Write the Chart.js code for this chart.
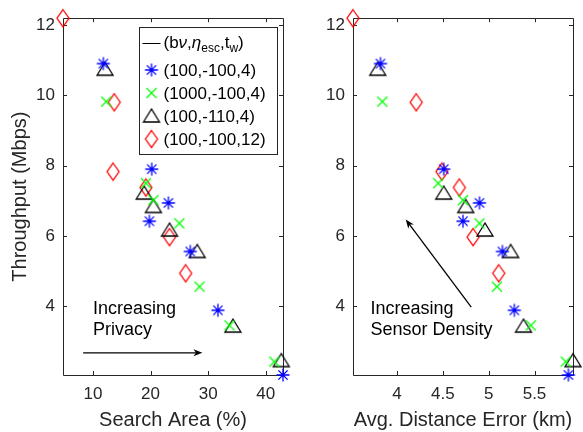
<!DOCTYPE html>
<html>
<head>
<meta charset="utf-8">
<script src="https://cdn.jsdelivr.net/npm/chart.js@4.4.1/dist/chart.umd.min.js"></script>
<style>
body { margin: 0; background: #fff; }
#wrap { position: relative; width: 583px; height: 432px; }
canvas { position: absolute; top: 0; }
</style>
</head>
<body>
<div id="wrap">
<canvas id="leftChart" width="292" height="432" style="left:0px"></canvas>
<canvas id="rightChart" width="291" height="432" style="left:292px"></canvas>
</div>
<script>
// throughput (Mbps), same for both panels
var tputStar = [10.9, 7.9, 6.94, 6.42, 5.56, 3.89, 2.05];
var tputCross = [9.82, 7.5, 7.02, 6.36, 4.56, 3.46, 2.43];
var tputTri = [10.74, 7.22, 6.84, 6.17, 5.56, 3.44, 2.46];
var tputDiam = [12.19, 9.8, 7.83, 7.38, 5.97, 4.94];

// search area (%)
var areaStar = [11.8, 20.2, 23.1, 19.8, 26.9, 31.7, 43.0];
var areaCross = [12.3, 19.2, 20.5, 25.0, 28.5, 33.7, 41.5];
var areaTri = [12.1, 18.9, 20.5, 23.3, 28.1, 34.3, 42.7];
var areaDiam = [4.8, 13.7, 13.5, 19.2, 23.3, 26.1];

// avg. distance error (km)
var distStar = [3.82, 4.51, 4.90, 4.72, 5.15, 5.28, 5.87];
var distCross = [3.84, 4.45, 4.72, 4.90, 5.09, 5.46, 5.84];
var distTri = [3.79, 4.51, 4.75, 4.96, 5.24, 5.38, 5.92];
var distDiam = [3.52, 4.21, 4.49, 4.68, 4.83, 5.11];

var seriesLabels = ["(100,-100,4)", "(1000,-100,4)", "(100,-110,4)", "(100,-100,12)"];
var seriesColors = ["#0000ff", "#00ff00", "#000000", "#ff0000"];

var yTicks = [4, 6, 8, 10, 12];
var areaTicks = [10, 20, 30, 40];
var distTicks = [4, 4.5, 5, 5.5];

var FONT = "'Liberation Sans', Arial, Helvetica, sans-serif";
var AXIS_COLOR = "#262626";

// matlab like marker images
function makeMarker(kind, color) {
    var c = document.createElement("canvas");
    c.width = 20; c.height = 22;
    var g = c.getContext("2d");
    var cx = 10, cy = 11;
    g.strokeStyle = color;
    g.lineWidth = 1.3;
    g.beginPath();
    if (kind === "star") {
        var r = 6.5, d = 4.6;
        g.moveTo(cx - r, cy); g.lineTo(cx + r, cy);
        g.moveTo(cx, cy - r); g.lineTo(cx, cy + r);
        g.moveTo(cx - d, cy - d); g.lineTo(cx + d, cy + d);
        g.moveTo(cx - d, cy + d); g.lineTo(cx + d, cy - d);
    } else if (kind === "cross") {
        var e = 5;
        g.moveTo(cx - e, cy - e); g.lineTo(cx + e, cy + e);
        g.moveTo(cx - e, cy + e); g.lineTo(cx + e, cy - e);
    } else if (kind === "tri") {
        g.moveTo(cx, cy - 7);
        g.lineTo(cx - 8, cy + 6);
        g.lineTo(cx + 8, cy + 6);
        g.closePath();
    } else {
        g.moveTo(cx, cy - 8.5);
        g.lineTo(cx + 6, cy);
        g.lineTo(cx, cy + 8.5);
        g.lineTo(cx - 6, cy);
        g.closePath();
    }
    g.stroke();
    return c;
}

var markerKinds = ["star", "cross", "tri", "diam"];
var markers = [];
for (let i = 0; i < markerKinds.length; i++) {
    markers[i] = makeMarker(markerKinds[i], seriesColors[i]);
}

function toPoints(xs, ys) {
    var pts = [];
    for (let i = 0; i < xs.length; i++) {
        pts.push({ x: xs[i], y: ys[i] });
    }
    return pts;
}

function drawFrame(chart) {
    var ctx = chart.ctx, a = chart.chartArea;
    var xs = chart.scales.x, ys = chart.scales.y;
    var tl = 4;
    ctx.save();
    ctx.strokeStyle = AXIS_COLOR;
    ctx.lineWidth = 1;
    ctx.beginPath();
    ctx.rect(Math.round(a.left) + 0.5, Math.round(a.top) + 0.5,
        Math.round(a.right - a.left), Math.round(a.bottom - a.top));
    for (let i = 0; i < xs.ticks.length; i++) {
        var px = Math.round(xs.getPixelForValue(xs.ticks[i].value)) + 0.5;
        ctx.moveTo(px, a.bottom); ctx.lineTo(px, a.bottom - tl);
        ctx.moveTo(px, a.top); ctx.lineTo(px, a.top + tl);
    }
    for (let i = 0; i < ys.ticks.length; i++) {
        var py = Math.round(ys.getPixelForValue(ys.ticks[i].value)) + 0.5;
        ctx.moveTo(a.left, py); ctx.lineTo(a.left + tl, py);
        ctx.moveTo(a.right, py); ctx.lineTo(a.right - tl, py);
    }
    ctx.stroke();
    ctx.restore();
}

function drawNote(chart, note) {
    var ctx = chart.ctx;
    var xs = chart.scales.x, ys = chart.scales.y;
    var x0 = xs.getPixelForValue(note.arrow[0]), y0 = ys.getPixelForValue(note.arrow[1]);
    var x1 = xs.getPixelForValue(note.arrow[2]), y1 = ys.getPixelForValue(note.arrow[3]);
    var ang = Math.atan2(y1 - y0, x1 - x0);
    ctx.save();
    ctx.strokeStyle = "#000";
    ctx.fillStyle = "#000";
    ctx.lineWidth = 1.3;
    ctx.beginPath();
    ctx.moveTo(x0, y0);
    ctx.lineTo(x1 - 4 * Math.cos(ang), y1 - 4 * Math.sin(ang));
    ctx.stroke();
    // arrow head
    var hl = 9, hw = 3.5;
    ctx.beginPath();
    ctx.moveTo(x1, y1);
    ctx.lineTo(x1 - hl * Math.cos(ang) + hw * Math.sin(ang), y1 - hl * Math.sin(ang) - hw * Math.cos(ang));
    ctx.lineTo(x1 - hl * 0.7 * Math.cos(ang), y1 - hl * 0.7 * Math.sin(ang));
    ctx.lineTo(x1 - hl * Math.cos(ang) - hw * Math.sin(ang), y1 - hl * Math.sin(ang) + hw * Math.cos(ang));
    ctx.closePath();
    ctx.fill();
    ctx.font = "18px " + FONT;
    ctx.textAlign = "left";
    ctx.textBaseline = "alphabetic";
    var tx = xs.getPixelForValue(note.textAt[0]);
    for (let i = 0; i < note.lines.length; i++) {
        ctx.fillText(note.lines[i], tx, ys.getPixelForValue(note.textAt[i + 1]));
    }
    ctx.restore();
}

function drawLegend(chart) {
    var ctx = chart.ctx, a = chart.chartArea;
    var w = 138, h = 127;
    var left = Math.round(a.right) - 6 - w + 0.5, top = Math.round(a.top) + 9 + 0.5;
    ctx.save();
    ctx.fillStyle = "#fff";
    ctx.strokeStyle = AXIS_COLOR;
    ctx.lineWidth = 1;
    ctx.fillRect(left, top, w, h);
    ctx.strokeRect(left, top, w, h);

    // header row: line sample and (b nu, eta_esc, t_w)
    var ry = top + 16;
    ctx.strokeStyle = "#000";
    ctx.beginPath();
    ctx.moveTo(left + 3, ry); ctx.lineTo(left + 21, ry);
    ctx.stroke();
    ctx.fillStyle = "#000";
    ctx.textBaseline = "middle";
    ctx.textAlign = "left";
    var parts = [
        ["(b", "17px", 0, ""], ["\u03bd", "17px", 0, "italic "], [",", "17px", 0, ""],
        ["\u03b7", "17px", 0, "italic "], ["esc", "12px", 5, ""], [",t", "17px", 0, ""],
        ["w", "12px", 5, ""], [")", "17px", 0, ""]
    ];
    var tx = left + 24;
    for (let i = 0; i < parts.length; i++) {
        ctx.font = parts[i][3] + parts[i][1] + " " + FONT;
        ctx.fillText(parts[i][0], tx, ry + parts[i][2]);
        tx += ctx.measureText(parts[i][0]).width;
    }

    ctx.font = "17px " + FONT;
    for (let i = 0; i < seriesLabels.length; i++) {
        var yy = top + 42.5 + i * 23;
        ctx.drawImage(markers[i], left + 12 - markers[i].width / 2, yy - markers[i].height / 2);
        ctx.fillText(seriesLabels[i], left + 24, yy + 1);
    }
    ctx.restore();
}

var matlabLook = {
    id: "matlabLook",
    beforeDatasetsDraw: function (chart) {
        drawFrame(chart);
    },
    afterDatasetsDraw: function (chart) {
        var o = chart.options.plugins.matlabLook;
        if (o.note) drawNote(chart, o.note);
        if (o.legend) drawLegend(chart);
    }
};

function BuildPanel(canvasId, xSets, xMin, xMax, xTicks, xTitle, showYTitle, yAxisWidth, padRight, note, legend) {
    var tputs = [tputStar, tputCross, tputTri, tputDiam];
    var datasets = [];
    for (let i = 0; i < 4; i++) {
        datasets.push({
            label: seriesLabels[i],
            data: toPoints(xSets[i], tputs[i]),
            pointStyle: markers[i],
            pointRadius: 7,
            showLine: false,
            clip: false
        });
    }
    var ctx = document.getElementById(canvasId).getContext("2d");
    return new Chart(ctx, {
        type: "scatter",
        data: { datasets: datasets },
        options: {
            responsive: false,
            animation: false,
            devicePixelRatio: 1,
            layout: { padding: { left: 0, right: padRight, top: 16, bottom: 0 } },
            plugins: {
                legend: { display: false },
                tooltip: { enabled: false },
                matlabLook: { note: note, legend: legend }
            },
            scales: {
                x: {
                    type: "linear",
                    min: xMin, max: xMax,
                    grid: { display: false, drawTicks: false },
                    border: { display: false },
                    afterBuildTicks: function (s) { s.ticks = xTicks.map(function (v) { return { value: v }; }); },
                    afterFit: function (s) { s.height = 57; },
                    ticks: {
                        padding: 9,
                        color: AXIS_COLOR,
                        font: { family: FONT, size: 17 },
                        maxRotation: 0,
                        callback: function (v) { return String(v); }
                    },
                    title: {
                        display: true,
                        text: xTitle,
                        color: AXIS_COLOR,
                        font: { family: FONT, size: 20 },
                        padding: { top: 0, bottom: 0 }
                    }
                },
                y: {
                    type: "linear",
                    min: 2.05, max: 12.19,
                    grid: { display: false, drawTicks: false },
                    border: { display: false },
                    afterBuildTicks: function (s) { s.ticks = yTicks.map(function (v) { return { value: v }; }); },
                    afterFit: function (s) { s.width = yAxisWidth; },
                    ticks: {
                        padding: 8,
                        color: AXIS_COLOR,
                        font: { family: FONT, size: 17 },
                        callback: function (v) { return String(v); }
                    },
                    title: {
                        display: showYTitle,
                        text: "Throughput (Mbps)",
                        color: AXIS_COLOR,
                        font: { family: FONT, size: 20 },
                        padding: { top: 8, bottom: 0 }
                    }
                }
            }
        },
        plugins: [matlabLook]
    });
}

BuildPanel("leftChart", [areaStar, areaCross, areaTri, areaDiam], 4.8, 43.0, areaTicks,
    "Search Area (%)", true, 63, 9,
    { arrow: [8.3, 2.68, 29.0, 2.68], lines: ["Increasing", "Privacy"], textAt: [10.0, 3.77, 3.18] },
    true);

BuildPanel("rightChart", [distStar, distCross, distTri, distDiam], 3.52, 5.92, distTicks,
    "Avg. Distance Error (km)", false, 61, 10,
    { arrow: [4.81, 3.98, 4.095, 6.47], lines: ["Increasing", "Sensor Density"], textAt: [3.71, 3.77, 3.18] },
    false);
</script>
</body>
</html>
